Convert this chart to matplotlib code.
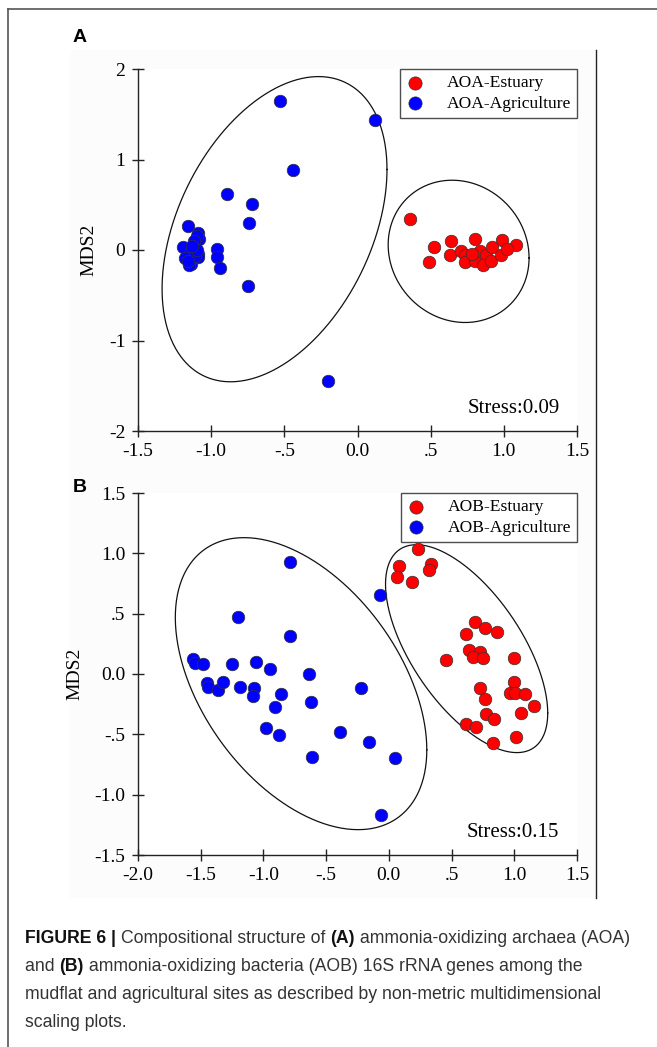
import numpy as np
import matplotlib
matplotlib.use("Agg")
import matplotlib.pyplot as plt
from matplotlib.patches import Rectangle
from matplotlib.lines import Line2D

# ---------------- data ----------------
# Panel A (AOA)
aoa_estuary_x = [0.36, 0.52, 0.49, 0.64, 0.63, 0.80, 0.99, 1.08, 0.71, 0.735,
                 0.735, 0.80, 0.84, 0.88, 0.86, 0.92, 0.915, 0.98, 1.02, 0.785]
aoa_estuary_y = [0.345, 0.03, -0.13, 0.10, -0.055, 0.12, 0.11, 0.06, -0.01, -0.05,
                 -0.13, -0.12, -0.01, -0.05, -0.17, 0.03, -0.12, -0.06, 0.01, -0.04]
aoa_agri_x = [-0.53, 0.12, -0.44, -0.89, -0.72, -0.74, -1.16, -1.09, -1.08, -1.19,
              -1.14, -1.09, -1.18, -1.14, -1.09, -0.96, -0.96, -0.94, -0.75, -0.20,
              -1.15, -1.10, -1.12, -1.11, -1.16, -1.10, -1.13]
aoa_agri_y = [1.65, 1.44, 0.88, 0.62, 0.51, 0.30, 0.26, 0.185, 0.12, 0.03,
              -0.01, -0.04, -0.09, -0.15, -0.08, 0.01, -0.08, -0.20, -0.40, -1.45,
              -0.17, 0.16, 0.10, -0.07, -0.12, 0.00, 0.04]

# Panel B (AOB)
aob_estuary_x = [0.235, 0.078, 0.067, 0.182, 0.335, 0.321, 0.684, 0.765, 0.615, 0.863,
                 0.637, 0.726, 0.668, 0.751, 0.455, 0.994, 0.729, 0.768, 1.000, 0.964,
                 1.008, 1.087, 1.156, 0.771, 0.835, 1.053, 0.615, 0.693, 0.832, 1.011]
aob_estuary_y = [1.033, 0.897, 0.806, 0.764, 0.911, 0.861, 0.428, 0.378, 0.331, 0.347,
                 0.200, 0.183, 0.139, 0.136, 0.114, 0.136, -0.119, -0.208, -0.064, -0.156,
                 -0.156, -0.167, -0.269, -0.333, -0.372, -0.322, -0.417, -0.439, -0.569, -0.525]
aob_agri_x = [-0.788, -0.070, -1.204, -0.791, -1.561, -1.545, -1.483, -1.249, -1.061, -0.950,
              -0.640, -1.453, -1.439, -1.363, -1.321, -1.190, -1.075, -1.087, -0.861, -0.908,
              -0.617, -0.226, -0.980, -0.872, -0.391, -0.159, -0.609, 0.047, -0.064]
aob_agri_y = [0.931, 0.658, 0.475, 0.311, 0.125, 0.094, 0.083, 0.083, 0.097, 0.039,
              0.000, -0.072, -0.106, -0.131, -0.067, -0.108, -0.119, -0.183, -0.164, -0.272,
              -0.236, -0.114, -0.447, -0.506, -0.478, -0.564, -0.689, -0.697, -1.167]

# Group ellipses: centre and covariance-like shape matrix [[sxx, sxy], [sxy, syy]]
aoa_agri_ellipse_center = [-0.567, 0.23]
aoa_agri_ellipse_shape = [[0.5906, 0.507], [0.507, 2.843]]
aoa_estuary_ellipse_center = [0.691, -0.015]
aoa_estuary_ellipse_shape = [[0.2318, -0.035], [-0.035, 0.618]]
aob_agri_ellipse_center = [-0.70, -0.08]
aob_agri_ellipse_shape = [[1.005, -0.55], [-0.55, 1.464]]
aob_estuary_ellipse_center = [0.62, 0.21]
aob_estuary_ellipse_shape = [[0.418, -0.345], [-0.345, 0.742]]

aoa_xticks = [-1.5, -1.0, -0.5, 0.0, 0.5, 1.0, 1.5]
aoa_xticklabels = ["-1.5", "-1.0", "-.5", "0.0", ".5", "1.0", "1.5"]
aoa_yticks = [-2, -1, 0, 1, 2]
aoa_yticklabels = ["-2", "-1", "0", "1", "2"]
aob_xticks = [-2.0, -1.5, -1.0, -0.5, 0.0, 0.5, 1.0, 1.5]
aob_xticklabels = ["-2.0", "-1.5", "-1.0", "-.5", "0.0", ".5", "1.0", "1.5"]
aob_yticks = [-1.5, -1.0, -0.5, 0.0, 0.5, 1.0, 1.5]
aob_yticklabels = ["-1.5", "-1.0", "-.5", "0.0", ".5", "1.0", "1.5"]

aoa_stress = "Stress:0.09"
aob_stress = "Stress:0.15"

caption_lines = [
    [("FIGURE 6 | ", "bold"), ("Compositional structure of ", "normal"), ("(A)", "bold"),
     (" ammonia-oxidizing archaea (AOA)", "normal")],
    [("and ", "normal"), ("(B)", "bold"),
     (" ammonia-oxidizing bacteria (AOB) 16S rRNA genes among the", "normal")],
    [("mudflat and agricultural sites as described by non-metric multidimensional", "normal")],
    [("scaling plots.", "normal")],
]

# ---------------- figure ----------------
W, H = 657, 1047
fig = plt.figure(figsize=(W / 100, H / 100), dpi=100)
fig.patch.set_facecolor("white")

def fx(px):
    return px / W

def fy(py):
    return 1 - py / H

# chart image backdrop and frame lines
fig.add_artist(Rectangle((fx(70), fy(898)), fx(596) - fx(70), fy(50) - fy(898),
                         transform=fig.transFigure, facecolor="#fcfcfc", edgecolor="none", zorder=0))
fig.add_artist(Line2D([fx(8), fx(657)], [fy(9), fy(9)], transform=fig.transFigure,
                      color="#555555", lw=1.2))
fig.add_artist(Line2D([fx(8), fx(8)], [fy(9), fy(1047)], transform=fig.transFigure,
                      color="#555555", lw=1.2))
fig.add_artist(Line2D([fx(596), fx(596)], [fy(50), fy(898)], transform=fig.transFigure,
                      color="#222222", lw=1.0))

serif = "Liberation Serif"
TICK_FS = 14

def ellipse_pts(center, shape):
    L = np.linalg.cholesky(np.array(shape, dtype=float))
    t = np.linspace(0, 2 * np.pi, 400)
    circ = np.vstack([np.cos(t), np.sin(t)])
    pts = L @ circ
    return center[0] + pts[0], center[1] + pts[1]

def make_panel(rect, xlim, ylim, xticks, xtl, yticks, ytl, est_x, est_y, agr_x, agr_y,
               ell_e, ell_a, labels, stress):
    ax = fig.add_axes(rect)
    ax.set_facecolor("white")
    ax.set_xlim(xlim)
    ax.set_ylim(ylim)
    for s in ["top", "right"]:
        ax.spines[s].set_visible(False)
    for s in ["left", "bottom"]:
        ax.spines[s].set_color("#222222")
        ax.spines[s].set_linewidth(1.0)
    ax.set_xticks(xticks)
    ax.set_xticklabels(xtl, fontfamily=serif, fontsize=TICK_FS)
    ax.set_yticks(yticks)
    ax.set_yticklabels(ytl, fontfamily=serif, fontsize=TICK_FS)
    ax.tick_params(direction="inout", length=8, width=1.0, color="#222222", pad=5)
    ax.set_ylabel("MDS2", fontfamily=serif, fontsize=14, labelpad=8)
    ex, ey = ellipse_pts(*ell_a)
    ax.plot(ex, ey, color="#111111", lw=0.9)
    ex, ey = ellipse_pts(*ell_e)
    ax.plot(ex, ey, color="#111111", lw=0.9)
    ax.scatter(est_x, est_y, s=82, color="#ff0000", edgecolor="#333333", linewidth=0.5,
               zorder=3, label=labels[0])
    ax.scatter(agr_x, agr_y, s=82, color="#0000ff", edgecolor="#333333", linewidth=0.5,
               zorder=3, label=labels[1])
    leg = ax.legend(loc="upper right", bbox_to_anchor=(1.0, 1.0), frameon=True, fancybox=False,
                    prop={"family": serif, "size": 12.6}, handletextpad=1.3, borderpad=0.35,
                    labelspacing=0.25, borderaxespad=0, handlelength=1.0, markerscale=1.05)
    leg.get_frame().set_edgecolor("#222222")
    leg.get_frame().set_linewidth(1.0)
    ax.text(0.96, 0.035, stress, transform=ax.transAxes, ha="right", va="bottom",
            fontfamily=serif, fontsize=15)
    return ax

axA = make_panel([fx(138), fy(431), fx(577) - fx(138), fy(69) - fy(431)],
                 (-1.5, 1.5), (-2, 2), aoa_xticks, aoa_xticklabels, aoa_yticks, aoa_yticklabels,
                 aoa_estuary_x, aoa_estuary_y, aoa_agri_x, aoa_agri_y,
                 (aoa_estuary_ellipse_center, aoa_estuary_ellipse_shape),
                 (aoa_agri_ellipse_center, aoa_agri_ellipse_shape),
                 ["AOA-Estuary", "AOA-Agriculture"], aoa_stress)
axB = make_panel([fx(138), fy(855), fx(577) - fx(138), fy(493) - fy(855)],
                 (-2.0, 1.5), (-1.5, 1.5), aob_xticks, aob_xticklabels, aob_yticks, aob_yticklabels,
                 aob_estuary_x, aob_estuary_y, aob_agri_x, aob_agri_y,
                 (aob_estuary_ellipse_center, aob_estuary_ellipse_shape),
                 (aob_agri_ellipse_center, aob_agri_ellipse_shape),
                 ["AOB-Estuary", "AOB-Agriculture"], aob_stress)

fig.text(fx(73), fy(38), "A", fontfamily="Liberation Sans", fontweight="bold", fontsize=14,
         ha="left", va="center")
fig.text(fx(73), fy(488), "B", fontfamily="Liberation Sans", fontweight="bold", fontsize=14,
         ha="left", va="center")

# caption, drawn piecewise so bold parts can be mixed in
cap_font = "Liberation Sans"
cap_size = 12.7
renderer = fig.canvas.get_renderer()
baselines = [943, 971, 999, 1027]
for line, by in zip(caption_lines, baselines):
    x = 25
    for txt, wt in line:
        t = fig.text(fx(x), fy(by), txt, fontfamily=cap_font, fontweight=wt, fontsize=cap_size,
                     ha="left", va="baseline", color="#111111" if wt == "bold" else "#333333")
        bb = t.get_window_extent(renderer=renderer)
        x += bb.width

fig.savefig("out.png", dpi=100, facecolor="white")
